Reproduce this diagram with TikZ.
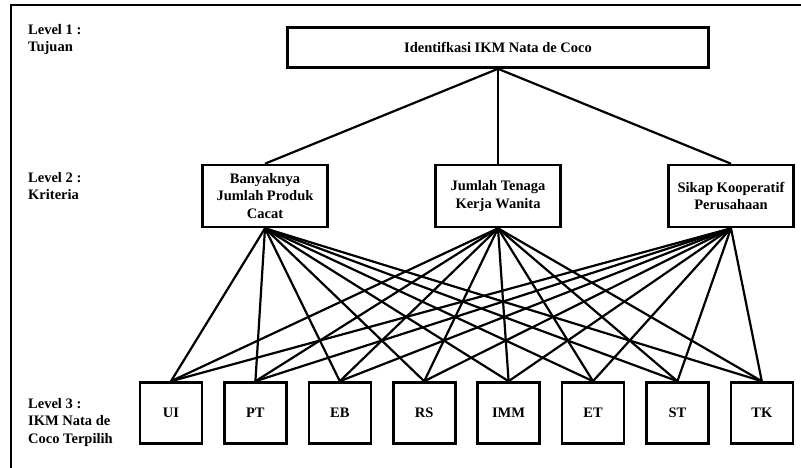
\documentclass[tikz,border=0pt]{standalone}
\usepackage{fontspec}
\setmainfont{Liberation Serif}
\usepackage{tikz}
\usetikzlibrary{positioning}
\tikzset{goal/.style={draw,line width=2.6pt,minimum width=421pt,minimum height=40pt,inner sep=0pt,align=center},
crit/.style={draw,line width=2.6pt,minimum width=125pt,minimum height=62pt,inner sep=0pt,align=center},
alt/.style={draw,line width=2.6pt,minimum width=62pt,minimum height=61pt,inner sep=0pt},
lvl/.style={anchor=north west,inner sep=0pt,align=left}}

\begin{document}
\begin{tikzpicture}[x=1pt,y=-1pt,link/.style={line width=2.2pt},
		every node/.append style={font=\fontsize{14.5}{17.5}\selectfont\bfseries}]
		\useasboundingbox (0,0) rectangle (801,468);
		\draw[line width=2.4pt] (11,468) -- (11,5) -- (801,5);

		% level labels
		\node[lvl] (l1) at (28,24) {Level 1 :\\Tujuan};
		\node[lvl] (l2) at (28,172) {Level 2 :\\Kriteria};
		\node[lvl] (l3) at (28,398) {Level 3 :\\IKM Nata de\\Coco Terpilih};

		\node[goal] (G) at (498,47.5) {Identifkasi IKM Nata de Coco};

		\node[crit] (C1) at (265,196) {Banyaknya\\Jumlah Produk\\Cacat};
		\node[crit] (C2) at (498,196) {Jumlah Tenaga\\Kerja Wanita};
		\node[crit] (C3) at (731,196) {Sikap Kooperatif\\Perusahaan};

		\foreach \name [count=\i] in {UI,PT,EB,RS,IMM,ET,ST,TK}
			\node[alt] (A\i) at ({171+84.4*(\i-1)},413) {\name};

		\foreach \c in {C1,C2,C3}
			\draw[link] (G.south) -- (\c.north);
		\foreach \c in {C1,C2,C3}
			\foreach \i in {1,...,8}
				\draw[link] (\c.south) -- (A\i.north);
	\end{tikzpicture}
\end{document}
